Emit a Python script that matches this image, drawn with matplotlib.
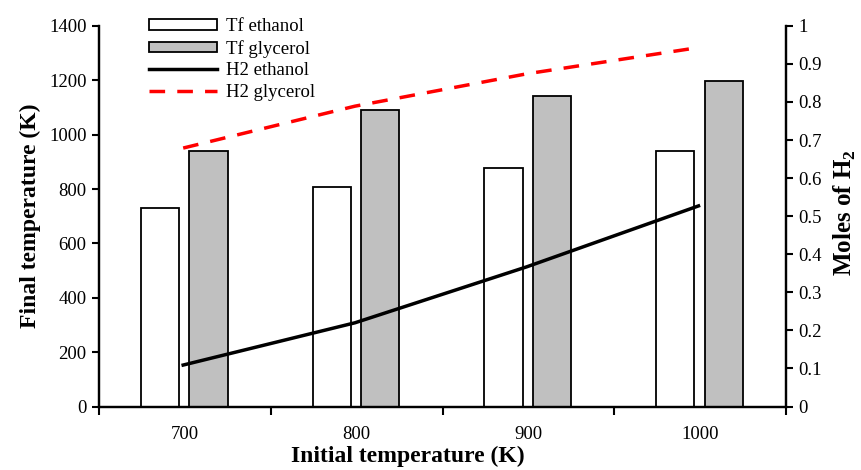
import matplotlib
matplotlib.use("Agg")
import matplotlib.pyplot as plt
import numpy as np

categories = ["700", "800", "900", "1000"]
tf_ethanol = [729, 807, 876, 940]
tf_glycerol = [940, 1090, 1142, 1198]
h2_ethanol = [0.109, 0.220, 0.367, 0.527]
h2_glycerol = [0.679, 0.789, 0.874, 0.943]

plt.rcParams['font.family'] = ['Liberation Serif', 'DejaVu Serif']
plt.rcParams['mathtext.fontset'] = 'custom'
plt.rcParams['mathtext.rm'] = 'Liberation Serif'
plt.rcParams['mathtext.bf'] = 'Liberation Serif:bold'

fig = plt.figure(figsize=(8.61, 4.70), dpi=100)
ax = fig.add_axes([0.115, 0.135, 0.798, 0.81])
ax2 = ax.twinx()

x = np.arange(len(categories))
w = 0.223
b1 = ax.bar(x - 0.145, tf_ethanol, w, color='white', edgecolor='black', linewidth=1.3, label='Tf ethanol')
b2 = ax.bar(x + 0.137, tf_glycerol, w, color='#c0c0c0', edgecolor='black', linewidth=1.3, label='Tf glycerol')

l1, = ax2.plot(x - 0.01, h2_ethanol, color='black', lw=2.5, label='H2 ethanol')
l2, = ax2.plot(x - 0.01, h2_glycerol, color='#ff0000', lw=2.5, ls=(0, (4.5, 3.5)), label='H2 glycerol')

ax.set_xlim(-0.5, 3.5)
ax.set_ylim(0, 1400)
ax.set_yticks(np.arange(0, 1401, 200))
ax2.set_ylim(0, 1)
yt = np.round(np.arange(0, 1.01, 0.1), 1)
ax2.set_yticks(yt)
ax2.set_yticklabels(["0"] + [f"{v:.1f}" for v in yt[1:-1]] + ["1"])

ax.set_xticks(np.arange(-0.5, 3.6, 1.0))
ax.set_xticklabels([])
ax.set_xticks(x, minor=True)
ax.set_xticklabels(categories, minor=True)
ax.tick_params(axis='x', which='major', direction='out', length=6, width=1.5)
ax.tick_params(axis='x', which='minor', length=0, pad=14, labelsize=13.5)
ax.tick_params(axis='y', direction='out', length=5, width=1.5, labelsize=13.5, pad=4)
ax2.tick_params(axis='y', direction='out', length=5, width=1.5, labelsize=13.5, pad=4)

for a in (ax, ax2):
    a.spines['top'].set_visible(False)
    for s in ('left', 'right', 'bottom'):
        a.spines[s].set_linewidth(1.6)

ax.set_xlabel('Initial temperature (K)', fontsize=17, fontweight='bold')
ax.xaxis.set_label_coords(0.45, -0.104)
ax.set_ylabel('Final temperature (K)', fontsize=17, fontweight='bold', labelpad=6)
ax2.set_ylabel(r'Moles of H$_\mathbf{2}$', fontsize=18, fontweight='bold')
ax2.yaxis.set_label_coords(1.066, 0.51)

leg = ax2.legend([b1, b2, l1, l2], ['Tf ethanol', 'Tf glycerol', 'H2 ethanol', 'H2 glycerol'],
                 loc='upper left', bbox_to_anchor=(0.062, 1.04), frameon=False, fontsize=13.5,
                 handlelength=3.6, handleheight=0.5, labelspacing=0.25, handletextpad=0.5,
                 borderaxespad=0)

fig.savefig('out.png', dpi=100)
